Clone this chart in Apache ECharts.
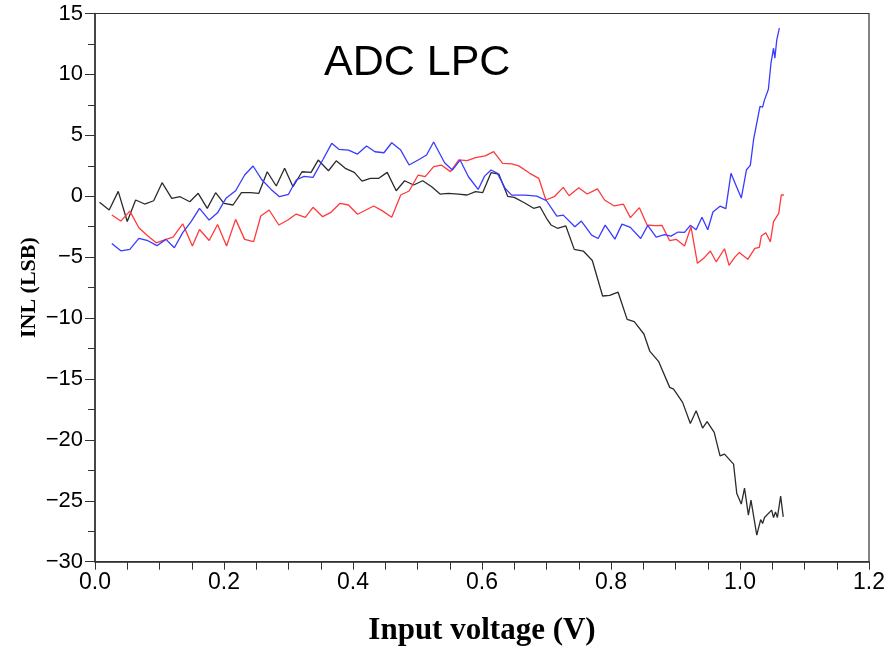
<!DOCTYPE html>
<html>
<head>
<meta charset="utf-8">
<script src="https://cdn.jsdelivr.net/npm/echarts@6/dist/echarts.min.js"></script>
<style>
  html, body { margin: 0; padding: 0; background: #fff; }
  #chart { width: 888px; height: 652px; }
</style>
</head>
<body>
<div id="chart"></div>
<script>
// INL curves: [input voltage (V), INL (LSB)]
const blackCurve = [
  [0.007,-0.50],[0.022,-1.13],[0.036,0.40],[0.050,-2.07],[0.063,-0.31],[0.077,-0.64],[0.091,-0.37],[0.104,1.11],
  [0.119,-0.17],[0.132,-0.04],[0.147,-0.45],[0.160,0.24],[0.174,-1.00],[0.187,0.29],[0.200,-0.58],[0.214,-0.72],
  [0.227,0.29],[0.241,0.29],[0.254,0.24],[0.267,2.01],[0.281,0.84],[0.294,2.29],[0.307,0.78],[0.321,2.01],
  [0.335,1.96],[0.346,2.97],[0.362,2.09],[0.374,2.91],[0.388,2.29],[0.402,1.96],[0.414,1.24],[0.427,1.47],
  [0.440,1.47],[0.453,1.96],[0.467,0.45],[0.480,1.27],[0.494,0.92],[0.508,1.27],[0.522,0.78],[0.535,0.18],
  [0.548,0.24],[0.563,0.18],[0.577,0.10],[0.590,0.37],[0.601,0.29],[0.614,1.93],[0.626,1.82],[0.640,-0.02],
  [0.650,-0.09],[0.667,-0.58],[0.680,-0.99],[0.690,-0.86],[0.700,-1.81],[0.707,-2.36],[0.717,-2.63],[0.730,-2.44],
  [0.743,-4.36],[0.757,-4.50],[0.771,-5.28],[0.787,-8.19],[0.798,-8.13],[0.811,-7.88],[0.825,-10.11],[0.836,-10.30],
  [0.851,-11.31],[0.860,-12.71],[0.874,-13.58],[0.891,-15.69],[0.897,-15.83],[0.911,-16.92],[0.923,-18.65],[0.932,-17.61],
  [0.942,-19.03],[0.949,-18.51],[0.960,-19.39],[0.969,-21.31],[0.976,-21.17],[0.990,-21.99],[0.995,-24.40],[1.002,-25.27],
  [1.007,-23.96],[1.013,-26.18],[1.017,-24.95],[1.026,-27.82],[1.032,-26.54],[1.035,-26.87],[1.038,-26.37],[1.041,-26.45],
  [1.049,-25.77],[1.052,-26.37],[1.055,-25.91],[1.058,-26.37],[1.063,-24.62],[1.067,-26.32]
]

const blueCurve = [
  [0.026,-3.87],[0.040,-4.48],[0.054,-4.36],[0.068,-3.46],[0.082,-3.65],[0.096,-4.06],[0.110,-3.54],[0.123,-4.23],
  [0.136,-2.99],[0.149,-2.09],[0.162,-0.99],[0.177,-1.96],[0.190,-1.36],[0.203,-0.17],[0.218,0.45],[0.232,1.74],
  [0.245,2.48],[0.259,1.33],[0.273,0.56],[0.286,-0.04],[0.300,0.16],[0.312,1.33],[0.324,1.63],[0.338,1.55],
  [0.353,2.97],[0.367,4.34],[0.378,3.85],[0.393,3.79],[0.407,3.46],[0.421,4.12],[0.434,3.65],[0.448,3.57],
  [0.460,4.39],[0.474,3.79],[0.487,2.56],[0.501,2.97],[0.514,3.38],[0.525,4.45],[0.542,2.75],[0.554,2.15],
  [0.566,2.97],[0.579,1.60],[0.594,0.56],[0.604,1.65],[0.614,2.15],[0.624,1.88],[0.636,0.64],[0.646,0.09],
  [0.654,0.09],[0.667,0.09],[0.685,0.01],[0.700,-0.37],[0.716,-1.63],[0.726,-1.55],[0.744,-2.51],[0.754,-2.04],
  [0.770,-3.19],[0.780,-3.47],[0.791,-2.37],[0.806,-3.52],[0.817,-2.29],[0.830,-2.56],[0.846,-3.47],[0.857,-2.39],
  [0.870,-3.35],[0.883,-3.16],[0.893,-3.27],[0.904,-2.94],[0.914,-2.97],[0.923,-2.39],[0.932,-2.75],[0.941,-1.72],
  [0.950,-2.75],[0.958,-1.29],[0.969,-0.82],[0.978,-1.01],[0.986,1.88],[0.995,0.73],[1.002,-0.15],[1.010,2.17],
  [1.016,2.53],[1.021,4.64],[1.024,4.77],[1.031,7.37],[1.035,7.31],[1.038,7.91],[1.044,8.78],[1.048,10.92],
  [1.052,12.15],[1.054,11.33],[1.057,12.84],[1.061,13.80]
]

const redCurve = [
  [0.026,-1.54],[0.040,-2.04],[0.054,-1.22],[0.068,-2.59],[0.082,-3.27],[0.095,-3.82],[0.110,-3.54],[0.121,-3.35],
  [0.136,-2.26],[0.151,-4.09],[0.162,-2.73],[0.177,-3.63],[0.190,-2.32],[0.204,-4.09],[0.218,-1.90],[0.232,-3.54],
  [0.246,-3.73],[0.257,-1.62],[0.270,-1.13],[0.285,-2.36],[0.299,-1.95],[0.312,-1.46],[0.326,-1.73],[0.338,-0.91],
  [0.353,-1.68],[0.365,-1.35],[0.380,-0.58],[0.393,-0.72],[0.407,-1.48],[0.420,-1.13],[0.432,-0.80],[0.445,-1.18],
  [0.460,-1.73],[0.474,0.10],[0.487,0.43],[0.501,1.74],[0.512,1.61],[0.525,2.43],[0.537,2.56],[0.551,2.02],
  [0.564,2.98],[0.577,2.92],[0.590,3.17],[0.605,3.31],[0.618,3.66],[0.632,2.70],[0.646,2.65],[0.657,2.49],
  [0.674,1.88],[0.688,1.47],[0.699,-0.31],[0.712,-0.04],[0.726,0.73],[0.735,0.04],[0.750,0.70],[0.763,0.18],
  [0.779,0.61],[0.790,-0.31],[0.805,-0.80],[0.819,-0.64],[0.830,-1.76],[0.844,-0.94],[0.856,-2.36],[0.868,-2.42],
  [0.879,-2.39],[0.891,-3.65],[0.901,-3.54],[0.914,-4.09],[0.924,-2.51],[0.934,-5.51],[0.945,-5.02],[0.954,-4.50],
  [0.963,-5.38],[0.976,-4.31],[0.983,-5.67],[0.992,-5.00],[0.999,-4.61],[1.012,-5.18],[1.023,-4.28],[1.030,-4.20],
  [1.033,-3.27],[1.040,-3.00],[1.047,-3.74],[1.052,-2.09],[1.060,-1.40],[1.064,0.10],[1.068,0.10]
]

const chartTitle = 'ADC LPC'
const xName = 'Input voltage (V)'
const yName = 'INL (LSB)'

const chart = echarts.init(document.getElementById('chart'))

const axisColor = '#333'

function lineSeries(data, color) {
  return {
    type: 'line',
    data: data,
    showSymbol: false,
    smooth: false,
    lineStyle: { color: color, width: 1.3 },
    animation: false
  }
}

chart.setOption({
  animation: false,
  title: {
    text: chartTitle,
    left: 319,
    top: 37,
    textStyle: { fontFamily: 'Liberation Sans', fontSize: 43, fontWeight: 'normal', color: '#000' }
  },
  grid: {
    left: 95,
    right: 16,
    top: 13.5,
    bottom: 90.3,
    show: true,
    borderColor: axisColor,
    borderWidth: 1.2,
    containLabel: false
  },
  xAxis: {
    type: 'value',
    min: 0,
    max: 1.2,
    interval: 0.2,
    name: xName,
    nameLocation: 'middle',
    nameGap: 54,
    nameMoveOverlap: false,
    nameTextStyle: { fontFamily: 'Liberation Serif', fontWeight: 'bold', fontSize: 31, color: '#000' },
    axisLine: { onZero: false, lineStyle: { color: axisColor, width: 1.5 } },
    axisTick: { length: 8, lineStyle: { color: axisColor } },
    minorTick: { show: true, splitNumber: 4, length: 8, lineStyle: { color: axisColor } },
    axisLabel: {
      margin: 9,
      fontFamily: 'Liberation Sans',
      fontSize: 23,
      color: '#000',
      formatter: v => v.toFixed(1)
    },
    splitLine: { show: false }
  },
  yAxis: {
    type: 'value',
    min: -30,
    max: 15,
    interval: 5,
    name: yName,
    nameLocation: 'middle',
    nameGap: 55,
    nameMoveOverlap: false,
    nameTextStyle: { fontFamily: 'Liberation Serif', fontWeight: 'bold', fontSize: 22, color: '#000' },
    axisLine: { onZero: false, lineStyle: { color: axisColor, width: 1.5 } },
    axisTick: { length: 10, lineStyle: { color: axisColor } },
    minorTick: { show: true, splitNumber: 2, length: 7, lineStyle: { color: axisColor } },
    axisLabel: {
      margin: 12,
      fontFamily: 'Liberation Sans',
      fontSize: 22,
      color: '#000',
      formatter: v => String(v).replace('-', '\u2212')
    },
    splitLine: { show: false }
  },
  series: [
    lineSeries(blackCurve, '#2b2b2b'),
    lineSeries(redCurve, '#ff3a3a'),
    lineSeries(blueCurve, '#3a3aff')
  ]
})
</script>
</body>
</html>
